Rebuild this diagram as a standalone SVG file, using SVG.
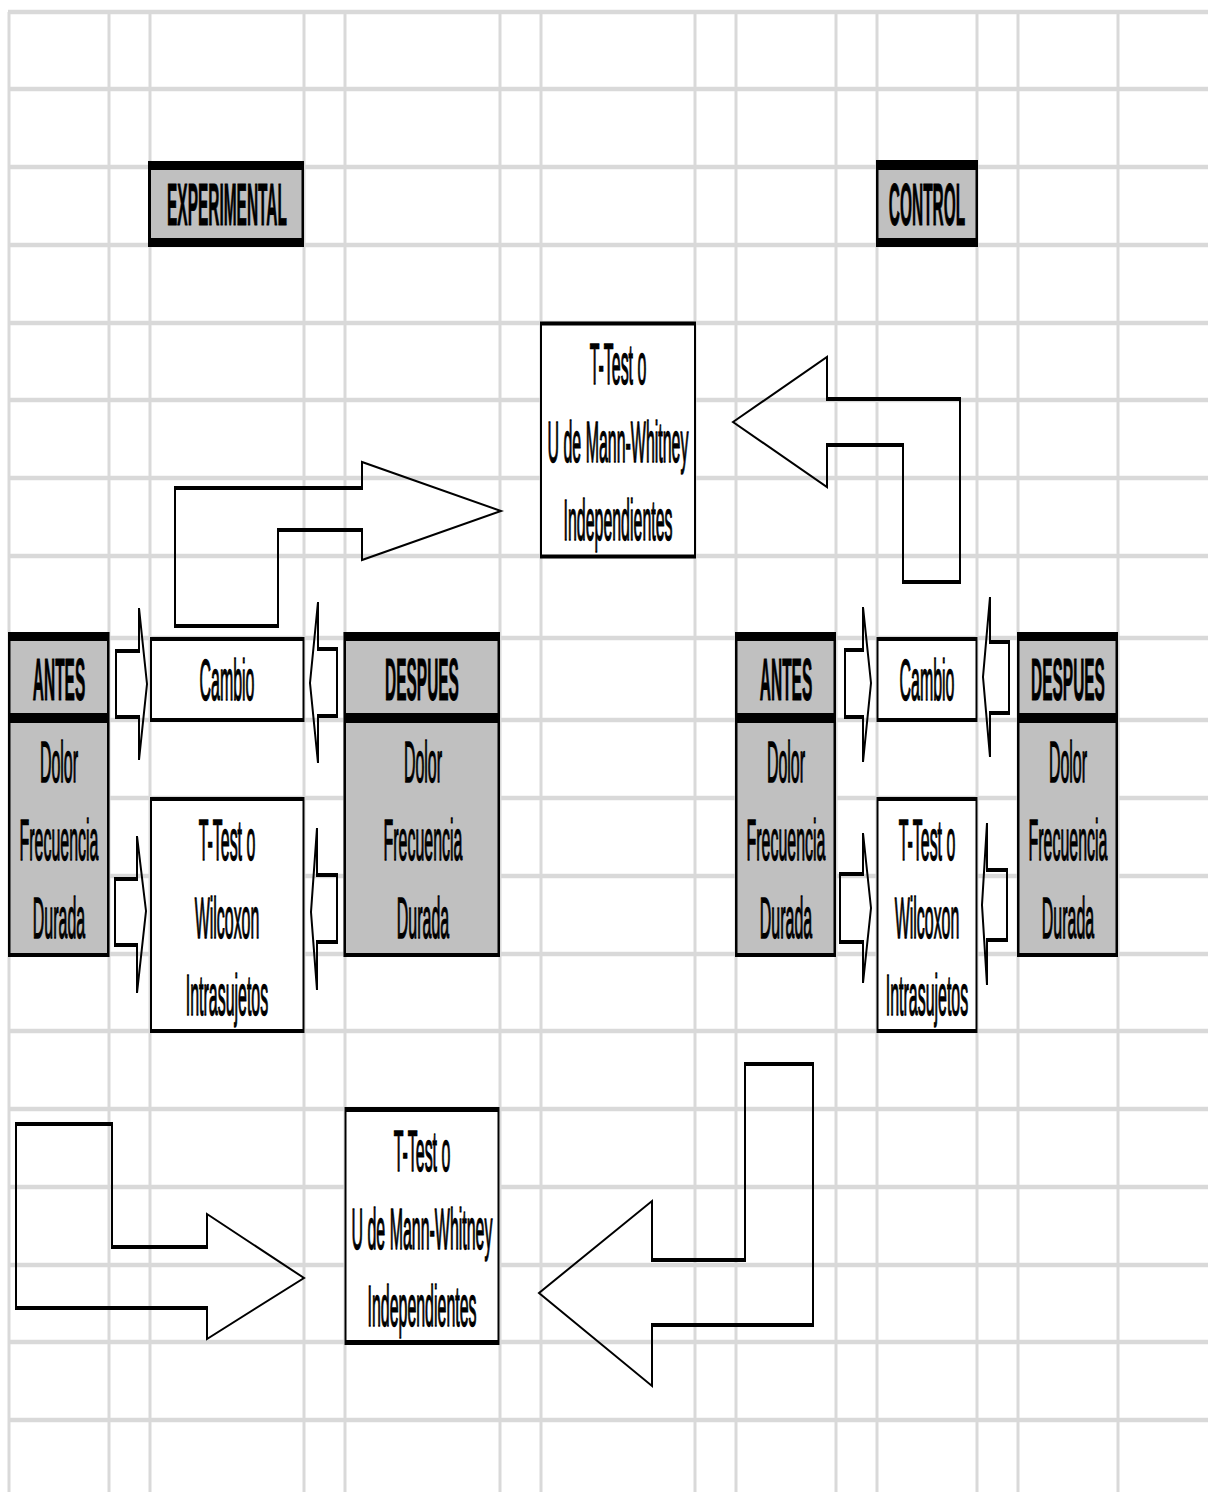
<svg xmlns="http://www.w3.org/2000/svg" width="1208" height="1492" viewBox="0 0 1208 1492">
  <style>
    .grid line { stroke: #d9d9d9; }
    .gh { stroke-width: 4.5; }
    .gv { stroke-width: 3; }
    .t { font-family: "Liberation Sans", Arial, sans-serif; font-size: 58px; text-anchor: middle; fill: #000; stroke: #000; stroke-width: 1.1; vector-effect: non-scaling-stroke; }
    .b { font-weight: bold; font-size: 59px; stroke-width: 0.7; }
    .frame { fill: #000; fill-rule: evenodd; }
    .gray { fill: #c0c0c0; }
    .white { fill: #fff; }
    .arrow { fill: none; stroke: #000; stroke-width: 2; stroke-linejoin: miter; }
    .shaft { stroke: #000; stroke-width: 4; }
  </style>

  <rect width="1208" height="1492" fill="#fff"/>

  <!-- spreadsheet grid -->
  <g class="grid">
    <g class="gh">
      <line x1="8" y1="12" x2="1208" y2="12"/>
      <line x1="8" y1="89" x2="1208" y2="89"/>
      <line x1="8" y1="167" x2="1208" y2="167"/>
      <line x1="8" y1="245" x2="1208" y2="245"/>
      <line x1="8" y1="323" x2="1208" y2="323"/>
      <line x1="8" y1="400" x2="1208" y2="400"/>
      <line x1="8" y1="478" x2="1208" y2="478"/>
      <line x1="8" y1="556" x2="1208" y2="556"/>
      <line x1="8" y1="638" x2="1208" y2="638"/>
      <line x1="8" y1="720" x2="1208" y2="720"/>
      <line x1="8" y1="798" x2="1208" y2="798"/>
      <line x1="8" y1="876" x2="1208" y2="876"/>
      <line x1="8" y1="954" x2="1208" y2="954"/>
      <line x1="8" y1="1031" x2="1208" y2="1031"/>
      <line x1="8" y1="1109" x2="1208" y2="1109"/>
      <line x1="8" y1="1187" x2="1208" y2="1187"/>
      <line x1="8" y1="1265" x2="1208" y2="1265"/>
      <line x1="8" y1="1342" x2="1208" y2="1342"/>
      <line x1="8" y1="1420" x2="1208" y2="1420"/>
    </g>
    <g class="gv">
      <line x1="9" y1="12" x2="9" y2="1492"/>
      <line x1="109" y1="12" x2="109" y2="1492"/>
      <line x1="150" y1="12" x2="150" y2="1492"/>
      <line x1="304" y1="12" x2="304" y2="1492"/>
      <line x1="345" y1="12" x2="345" y2="1492"/>
      <line x1="500" y1="12" x2="500" y2="1492"/>
      <line x1="541" y1="12" x2="541" y2="1492"/>
      <line x1="695" y1="12" x2="695" y2="1492"/>
      <line x1="736" y1="12" x2="736" y2="1492"/>
      <line x1="836" y1="12" x2="836" y2="1492"/>
      <line x1="877" y1="12" x2="877" y2="1492"/>
      <line x1="977" y1="12" x2="977" y2="1492"/>
      <line x1="1018" y1="12" x2="1018" y2="1492"/>
      <line x1="1118" y1="12" x2="1118" y2="1492"/>
    </g>
  </g>

  <!-- group titles -->
  <g id="experimental">
    <rect class="gray" x="148" y="161" width="156" height="86"/>
    <path class="frame" d="M148 161H304V247H148Z M151 170V238H301.5V170Z"/>
    <text class="t b" transform="translate(227 225) scale(0.262 1)">EXPERIMENTAL</text>
  </g>
  <g id="control">
    <rect class="gray" x="876" y="160" width="102" height="87"/>
    <path class="frame" d="M876 160H978V247H876Z M878.5 170V238H975.5V170Z"/>
    <text class="t b" transform="translate(927 225) scale(0.262 1)">CONTROL</text>
  </g>

  <!-- between-groups test (top) -->
  <g id="mann-whitney-top">
    <rect class="white" x="540" y="322" width="156" height="236"/>
    <path class="frame" d="M540 321.5H696V558.5H540Z M542 325.5V554.5H694V325.5Z"/>
    <text class="t" transform="translate(618 384) scale(0.275 1)">T-Test o</text>
    <text class="t" transform="translate(618 462) scale(0.275 1)">U de Mann-Whitney</text>
    <text class="t" transform="translate(618 540) scale(0.275 1)">Independientes</text>
  </g>

  <!-- experimental: before -->
  <g id="exp-antes">
    <rect class="gray" x="8" y="632" width="101.5" height="325"/>
    <path class="frame" d="M8 632H109.5V957H8Z M10.5 641V713H107V641Z M10.5 723V953H107V723Z"/>
    <text class="t b" transform="translate(59 700) scale(0.262 1)">ANTES</text>
    <text class="t" transform="translate(59 782) scale(0.275 1)">Dolor</text>
    <text class="t" transform="translate(59 860) scale(0.275 1)">Frecuencia</text>
    <text class="t" transform="translate(59 938) scale(0.275 1)">Durada</text>
  </g>

  <!-- experimental: change -->
  <g id="exp-cambio">
    <rect class="white" x="150" y="637" width="154.5" height="85"/>
    <path class="frame" d="M150 637H304.5V722H150Z M152 641V718H302.5V641Z"/>
    <text class="t" transform="translate(227 700) scale(0.275 1)">Cambio</text>
  </g>

  <!-- experimental: within-subject test -->
  <g id="exp-wilcoxon">
    <rect class="white" x="150" y="797" width="154.5" height="236"/>
    <path class="frame" d="M150 797H304.5V1033H150Z M152 801V1029H302.5V801Z"/>
    <text class="t" transform="translate(227 860) scale(0.275 1)">T-Test o</text>
    <text class="t" transform="translate(227 938) scale(0.275 1)">Wilcoxon</text>
    <text class="t" transform="translate(227 1015) scale(0.275 1)">Intrasujetos</text>
  </g>

  <!-- experimental: after -->
  <g id="exp-despues">
    <rect class="gray" x="343.5" y="632" width="156.5" height="325"/>
    <path class="frame" d="M343.5 632H500V957H343.5Z M346 641V713H497.5V641Z M346 723V953H497.5V723Z"/>
    <text class="t b" transform="translate(422 700) scale(0.262 1)">DESPUES</text>
    <text class="t" transform="translate(423 782) scale(0.275 1)">Dolor</text>
    <text class="t" transform="translate(423 860) scale(0.275 1)">Frecuencia</text>
    <text class="t" transform="translate(423 938) scale(0.275 1)">Durada</text>
  </g>

  <!-- control: before -->
  <g id="ctrl-antes">
    <rect class="gray" x="735" y="632" width="101" height="325"/>
    <path class="frame" d="M735 632H836V957H735Z M737.5 641V713H833.5V641Z M737.5 723V953H833.5V723Z"/>
    <text class="t b" transform="translate(786 700) scale(0.262 1)">ANTES</text>
    <text class="t" transform="translate(786 782) scale(0.275 1)">Dolor</text>
    <text class="t" transform="translate(786 860) scale(0.275 1)">Frecuencia</text>
    <text class="t" transform="translate(786 938) scale(0.275 1)">Durada</text>
  </g>

  <!-- control: change -->
  <g id="ctrl-cambio">
    <rect class="white" x="876.5" y="637" width="101" height="85"/>
    <path class="frame" d="M876.5 637H977.5V722H876.5Z M878.5 641V718H975.5V641Z"/>
    <text class="t" transform="translate(927 700) scale(0.275 1)">Cambio</text>
  </g>

  <!-- control: within-subject test -->
  <g id="ctrl-wilcoxon">
    <rect class="white" x="876.5" y="797" width="101" height="236"/>
    <path class="frame" d="M876.5 797H977.5V1033H876.5Z M878.5 801V1029H975.5V801Z"/>
    <text class="t" transform="translate(927 860) scale(0.275 1)">T-Test o</text>
    <text class="t" transform="translate(927 938) scale(0.275 1)">Wilcoxon</text>
    <text class="t" transform="translate(927 1015) scale(0.275 1)">Intrasujetos</text>
  </g>

  <!-- control: after -->
  <g id="ctrl-despues">
    <rect class="gray" x="1017" y="632" width="101" height="325"/>
    <path class="frame" d="M1017 632H1118V957H1017Z M1019.5 641V713H1115.5V641Z M1019.5 723V953H1115.5V723Z"/>
    <text class="t b" transform="translate(1068 700) scale(0.262 1)">DESPUES</text>
    <text class="t" transform="translate(1068 782) scale(0.275 1)">Dolor</text>
    <text class="t" transform="translate(1068 860) scale(0.275 1)">Frecuencia</text>
    <text class="t" transform="translate(1068 938) scale(0.275 1)">Durada</text>
  </g>

  <!-- between-groups test (bottom) -->
  <g id="mann-whitney-bottom">
    <rect class="white" x="344.5" y="1107" width="155" height="238"/>
    <path class="frame" d="M344.5 1107H499.5V1345H344.5Z M346.5 1112V1340H497.5V1112Z"/>
    <text class="t" transform="translate(422 1171) scale(0.275 1)">T-Test o</text>
    <text class="t" transform="translate(422 1249) scale(0.275 1)">U de Mann-Whitney</text>
    <text class="t" transform="translate(422 1326) scale(0.275 1)">Independientes</text>
  </g>

  <!-- block arrows -->
  <g id="connectors">
    <!-- small arrows, experimental -->
    <polygon class="arrow" points="116,651 139,651 139,608 147,684 139,760 139,717 116,717"/>
    <path class="shaft" d="M115 651H140M115 717H140"/>
    <polygon class="arrow" points="337,649 318,649 318,602 310,683 318,763 318,716 337,716"/>
    <path class="shaft" d="M317 649H338M317 716H338"/>
    <polygon class="arrow" points="115,879 137,879 137,836 146,911 137,993 137,945 115,945"/>
    <path class="shaft" d="M114 879H138M114 945H138"/>
    <polygon class="arrow" points="337,875 317,875 317,828 311,912 317,990 317,942 337,942"/>
    <path class="shaft" d="M316 875H338M316 942H338"/>

    <!-- small arrows, control -->
    <polygon class="arrow" points="845,650 863,650 863,607 871,683 863,762 863,717 845,717"/>
    <path class="shaft" d="M844 650H864M844 717H864"/>
    <polygon class="arrow" points="1009,642 990,642 990,597 983,677 990,757 990,713 1009,713"/>
    <path class="shaft" d="M989 642H1010M989 713H1010"/>
    <polygon class="arrow" points="840,874 863,874 863,833 871,908 863,983 863,942 840,942"/>
    <path class="shaft" d="M839 874H864M839 942H864"/>
    <polygon class="arrow" points="1007,870 987,870 987,823 982,905 987,985 987,940 1007,940"/>
    <path class="shaft" d="M986 870H1008M986 940H1008"/>

    <!-- large arrows to the between-groups tests -->
    <polygon class="arrow" points="175,626 175,488 362,488 362,462 501,511 362,560 362,530 278,530 278,626"/>
    <path class="shaft" d="M174 626H279M174 488H363M277 530H363"/>
    <polygon class="arrow" points="733,422 827,357 827,399 960,399 960,582 903,582 903,445 827,445 827,487"/>
    <path class="shaft" d="M826 399H961M902 582H961M826 445H904"/>
    <polygon class="arrow" points="16,1124 112,1124 112,1247 207,1247 207,1214 304,1278 207,1339 207,1308 16,1308"/>
    <path class="shaft" d="M15 1124H113M111 1247H208M15 1308H208"/>
    <polygon class="arrow" points="813,1064 813,1325 652,1325 652,1386 539,1293 652,1201 652,1260 745,1260 745,1064"/>
    <path class="shaft" d="M744 1064H814M651 1260H746M651 1325H814"/>
  </g>
</svg>
